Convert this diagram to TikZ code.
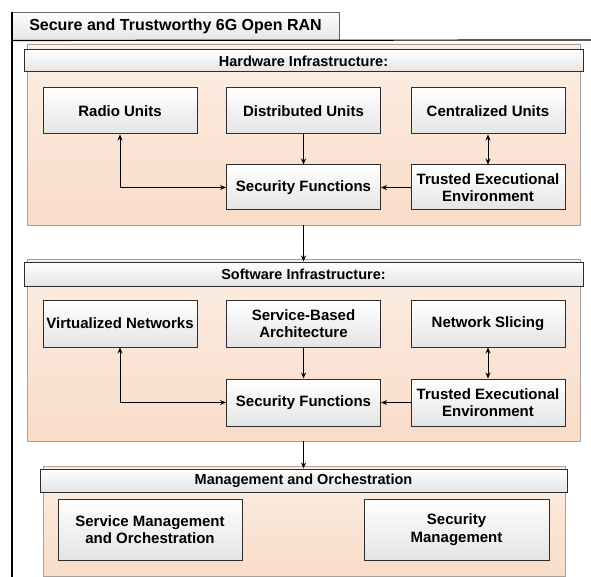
\documentclass[tikz,border=0pt]{standalone}
\usepackage{fontspec}
\setmainfont{Liberation Sans}
\usetikzlibrary{arrows.meta,shadows}

\definecolor{peachtop}{RGB}{252,238,228}
\definecolor{peachbot}{RGB}{248,220,200}
\definecolor{boxtop}{RGB}{255,255,255}
\definecolor{boxbot}{RGB}{228,228,228}
\definecolor{panelline}{RGB}{170,160,155}
\definecolor{boxline}{RGB}{45,45,45}

\tikzset{
  panel/.style={draw=panelline, line width=0.9pt, top color=peachtop, bottom color=peachbot,
    drop shadow={shadow xshift=1.2pt, shadow yshift=-1.2pt, fill=black!30, opacity=0.6},
    inner sep=0pt},
  headbar/.style={draw=boxline, line width=1pt, top color=boxtop, bottom color=boxbot,
    inner sep=0pt, font=\bfseries\fontsize{14.5}{17}\selectfont},
  unit/.style={draw=boxline, line width=1pt, top color=boxtop, bottom color=boxbot,
    inner sep=2pt, align=center, minimum width=154pt,
    font=\bfseries\fontsize{15}{17.5}\selectfont},
  link/.style={line width=0.9pt, -{Stealth[length=6pt,width=5pt]}},
  dlink/.style={line width=0.9pt, {Stealth[length=6pt,width=5pt]}-{Stealth[length=6pt,width=5pt]}},
}

\begin{document}
\begin{tikzpicture}[x=1pt,y=-1pt]
\useasboundingbox (0,0) rectangle (591,577);

% outer frame with title tab
\node[draw=black!60, line width=0.9pt, top color=boxtop, bottom color=boxbot,
      minimum width=327pt, minimum height=28pt, inner sep=0pt,
      font=\bfseries\fontsize{16}{19}\selectfont] (tab) at (175.5,26) {Secure and Trustworthy 6G Open RAN};
\coordinate (frametop) at (12,12);
\coordinate (framebot) at (12,577);
\coordinate (lineend) at (591,40);
\draw[line width=1.2pt] (frametop) -- (framebot);
\draw[line width=1.2pt] (tab.south west) -- (lineend);

% hardware layer
\node[panel, minimum width=553pt, minimum height=181pt] (hw) at (303.5,134.5) {};
\node[headbar, minimum width=559pt, minimum height=22pt] (hwh) at (303.5,61) {Hardware Infrastructure:};
\node[unit, minimum height=46pt] (ru) at (120,111) {Radio Units};
\node[unit, minimum height=46pt] (du) at (303.5,111) {Distributed Units};
\node[unit, minimum height=46pt] (cu) at (488,111) {Centralized Units};
\node[unit, minimum height=45pt] (hsf) at (303.5,187.5) {Security Functions};
\node[unit, minimum height=45pt] (htee) at (488,187.5) {Trusted Executional\\Environment};

\draw[dlink] (ru.south) |- (hsf.west);
\draw[link] (du.south) -- (hsf.north);
\draw[dlink] (cu.south) -- (htee.north);
\draw[link] (htee.west) -- (hsf.east);

% software layer
\node[panel, minimum width=553pt, minimum height=182pt] (sw) at (303.5,350) {};
\node[headbar, minimum width=559pt, minimum height=24pt] (swh) at (303.5,274) {Software Infrastructure:};
\node[unit, minimum height=47pt] (vn) at (120,323.5) {Virtualized Networks};
\node[unit, minimum height=47pt] (sba) at (303.5,323.5) {Service-Based\\Architecture};
\node[unit, minimum height=47pt] (ns) at (488,323.5) {Network Slicing};
\node[unit, minimum height=47pt] (ssf) at (303.5,402.5) {Security Functions};
\node[unit, minimum height=47pt] (stee) at (488,402.5) {Trusted Executional\\Environment};

\draw[dlink] (vn.south) |- (ssf.west);
\draw[link] (sba.south) -- (ssf.north);
\draw[dlink] (ns.south) -- (stee.north);
\draw[link] (stee.west) -- (ssf.east);

% management layer
\node[panel, minimum width=522pt, minimum height=110pt] (mg) at (304,521) {};
\node[headbar, minimum width=527pt, minimum height=23pt] (mgh) at (303.5,480.5) {Management and Orchestration};
\node[unit, minimum width=184pt, minimum height=61pt] (smo) at (150,529.5) {Service Management\\and Orchestration};
\node[unit, minimum width=185pt, minimum height=61pt] (secm) at (456.5,529.5) {Security\\Management};

% flow between layers
\draw[link] (hw.south) -- (swh.north);
\draw[link] (sw.south) -- (mgh.north);
\end{tikzpicture}
\end{document}
